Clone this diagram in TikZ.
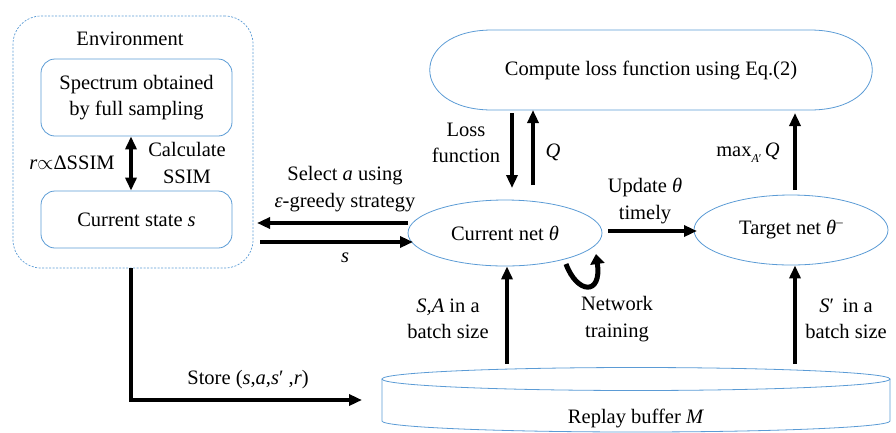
\documentclass[tikz,border=0pt]{standalone}
\usepackage{fontspec}
\setmainfont{Liberation Serif}
\usetikzlibrary{arrows.meta,shapes.geometric}
\definecolor{boxblue}{HTML}{5B9BD5}
\begin{document}
\begin{tikzpicture}[x=1pt,y=-1pt,
  font=\fontsize{20.5}{26.5}\selectfont,
  bl/.style={draw=boxblue, line width=0.8pt},
  arr/.style={line width=3.6pt, -{Triangle[length=13pt,width=11pt]}},
  darr/.style={line width=3.6pt, {Triangle[length=13pt,width=11pt]}-{Triangle[length=13pt,width=11pt]}},
  lbl/.style={align=center, inner sep=0pt}]
\useasboundingbox (0,0) rectangle (896,432);

% Environment
\node[draw=boxblue, line width=0.7pt, dash pattern=on 2pt off 1.5pt, rounded corners=28pt,
      minimum width=240pt, minimum height=252pt, inner sep=0pt] (env) at (133,142) {};
\node[lbl] (envlbl) at (130,39) {Environment};
\node[bl, rounded corners=14pt, minimum width=191pt, minimum height=77pt, align=center, inner sep=0pt] (spec) at (136.5,97.5) {Spectrum obtained\\by full sampling};
\node[bl, rounded corners=14pt, minimum width=191pt, minimum height=57pt, inner sep=0pt] (state) at (136.5,219.5) {Current state \textit{s}};
\draw[darr] (spec.south -| 131,0) -- (state.north -| 131,0);
\node[lbl] (rlbl) at (72,163) {\textit{r}$\propto$ΔSSIM};
\node[lbl] (calc) at (187,163) {Calculate\\SSIM};

% Compute loss
\node[inner sep=0pt, minimum width=442pt, minimum height=80pt] (comp) at (651,70) {Compute loss function using Eq.(2)};
\draw[bl] (492,30) -- (810,30) .. controls (893,30) and (893,110) .. (810,110)
  -- (492,110) .. controls (409,110) and (409,30) .. (492,30);

% nets
\node[ellipse, bl, minimum width=194pt, minimum height=66pt, inner sep=0pt] (cur) at (505,233) {Current net \textit{θ}};
\node[ellipse, bl, minimum width=194pt, minimum height=70pt, inner sep=0pt] (tgt) at (791,230) {Target net \textit{θ}\raisebox{0.9ex}{\fontsize{13}{13}\selectfont –}};

% replay buffer
\draw[bl] (636,379) ellipse[x radius=254, y radius=11.5];
\draw[bl] (382,379) -- (382,421) arc[start angle=180, end angle=0, x radius=254, y radius=11] -- (890,379);
\node[lbl] (buf) at (636,418) {Replay buffer \textit{M}};

% coordinates for connector ends
\coordinate (lossA) at (512,113);
\coordinate (lossB) at (512,188);
\coordinate (qA) at (533,185);
\coordinate (qB) at (533,110);
\coordinate (selA) at (408,223);
\coordinate (selB) at (257,223);
\coordinate (sA) at (260,242);
\coordinate (sB) at (413,242);
\coordinate (updA) at (608,231);
\coordinate (updB) at (697,231);
\coordinate (maxA) at (795,190);
\coordinate (maxB) at (795,113);
\coordinate (bufA) at (507,364);
\coordinate (bufB) at (795,364);
\coordinate (storeA) at (131,268);
\coordinate (storeB) at (362,400);

\draw[arr] (lossA) -- (lossB);
\draw[arr] (qA) -- (qB);
\draw[arr] (selA) -- (selB);
\draw[arr] (sA) -- (sB);
\draw[arr] (updA) -- (updB);
\draw[arr] (maxA) -- (maxB);
\draw[arr] (bufA) -- (bufA |- cur.south);
\draw[arr] (bufB) -- (bufB |- tgt.south);
\draw[arr] (storeA) |- (storeB);

% network training curl
\coordinate (curlA) at (566,264);
\coordinate (curlB) at (596,254);
\draw[line width=5pt, -{Triangle[length=10pt,width=14pt]}] (curlA) .. controls (577,294) and (602,296) .. (curlB);

% labels
\node[lbl] (sel) at (345,189) {Select \textit{a} using\\\textit{ε}-greedy strategy};
\node[lbl] (slbl) at (345,258) {\textit{s}};
\node[lbl] (loss) at (466,143) {Loss\\function};
\node[lbl] (qlbl) at (553,152) {\textit{Q}};
\node[lbl] (upd) at (645,201) {Update \textit{θ}\\timely};
\node[lbl] (maxlbl) at (748,153) {max\raisebox{-0.6ex}{\fontsize{12}{12}\selectfont\textit{A}′}\,\textit{Q}};
\node[lbl] (salbl) at (448,319) {\textit{S,A} in a\\batch size};
\node[lbl] (ntlbl) at (617,319) {Network\\training};
\node[lbl] (splbl) at (846,319) {\textit{S}′\, in a\\batch size};
\node[lbl] (store) at (248,380) {Store (\textit{s},\textit{a},\textit{s}′ ,\textit{r})};
\end{tikzpicture}
\end{document}
